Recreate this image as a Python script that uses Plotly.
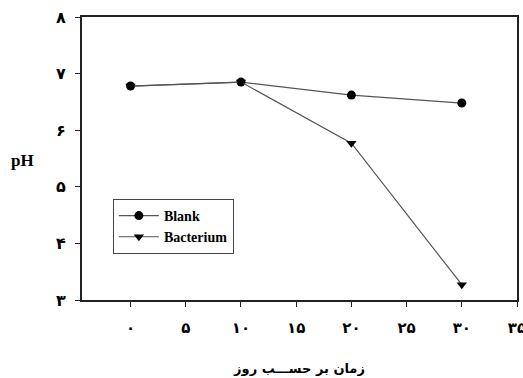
import plotly.graph_objects as go

days = [0, 10, 20, 30]
blank = [6.78, 6.85, 6.62, 6.48]
bacterium = [6.78, 6.85, 5.77, 3.27]
x_ticks = [0, 5, 10, 15, 20, 25, 30, 35]
x_labels = ["۰", "۵", "۱۰", "۱۵", "۲۰", "۲۵", "۳۰", "۳۵"]
y_ticks = [3, 4, 5, 6, 7, 8]
y_labels = ["۳", "۴", "۵", "۶", "۷", "۸"]

fig = go.Figure()
fig.add_trace(go.Scatter(x=days, y=blank, name="Blank", mode="lines+markers",
                         line=dict(color="#555555", width=1.2),
                         marker=dict(symbol="circle", size=9, color="black")))
fig.add_trace(go.Scatter(x=days, y=bacterium, name="Bacterium", mode="lines+markers",
                         line=dict(color="#555555", width=1.2),
                         marker=dict(symbol="triangle-down", size=9, color="black")))

fig.update_layout(
    width=523, height=378,
    margin=dict(l=82, r=6, t=17, b=78),
    plot_bgcolor="white", paper_bgcolor="white",
    showlegend=True,
    legend=dict(x=0.071, y=0.357, xanchor="left", yanchor="top",
                bordercolor="#444444", borderwidth=1, bgcolor="white",
                font=dict(family="Liberation Serif", size=14, color="black", weight="bold"),
                tracegroupgap=0, itemwidth=40),
    xaxis=dict(range=[-4.4, 35], tickvals=x_ticks, ticktext=x_labels,
               showgrid=False, zeroline=False, showline=True, linecolor="#222222",
               linewidth=2, mirror=True, ticks="outside", ticklen=5, tickcolor="#222222",
               tickfont=dict(family="DejaVu Sans", size=15, color="black", weight="bold"),
               ticklabelstandoff=8, ticklabeloverflow="allow", automargin=False,
               title=dict(text="زمان بر حســـب روز",
                          font=dict(family="DejaVu Sans", size=13, color="black", weight="bold"),
                          standoff=28)),
    yaxis=dict(range=[3, 8], tickvals=y_ticks, ticktext=y_labels,
               showgrid=False, zeroline=False, showline=True, linecolor="#222222",
               linewidth=2, mirror=True, ticks="outside", ticklen=5, tickcolor="#222222",
               tickfont=dict(family="DejaVu Sans", size=16, color="black", weight="bold"),
               ticklabelstandoff=6, automargin=False),
)
fig.add_annotation(text="pH", x=(22 - 82) / 435, y=(300 - 160) / 283,
                   xref="paper", yref="paper", showarrow=False,
                   xanchor="center", yanchor="middle",
                   font=dict(family="Liberation Serif", size=17, color="black", weight="bold"))
fig.write_html("out.html")
